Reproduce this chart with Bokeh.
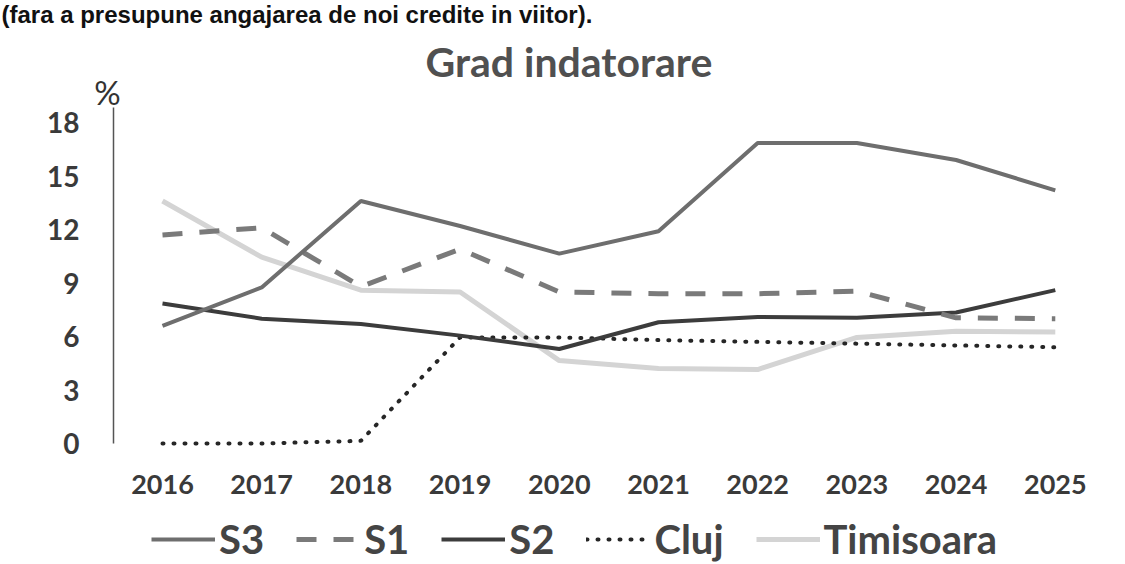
from bokeh.plotting import figure
from bokeh.models import Legend, LegendItem, Label, FixedTicker, Range1d
from bokeh.embed import file_html
from bokeh.resources import INLINE

years = [2016, 2017, 2018, 2019, 2020, 2021, 2022, 2023, 2024, 2025]
s3 = [6.6, 8.75, 13.6, 12.2, 10.65, 11.9, 16.85, 16.85, 15.9, 14.2]
s1 = [11.7, 12.1, 8.8, 10.9, 8.5, 8.4, 8.4, 8.55, 7.05, 7.0]
s2 = [7.85, 7.0, 6.7, 6.05, 5.3, 6.8, 7.1, 7.05, 7.35, 8.6]
cluj = [0.0, 0.0, 0.15, 5.95, 5.95, 5.8, 5.7, 5.6, 5.5, 5.4]
timisoara = [13.6, 10.45, 8.6, 8.5, 4.65, 4.2, 4.15, 5.95, 6.3, 6.25]
y_ticks = [0, 3, 6, 9, 12, 15, 18]

title_text = "Grad indatorare"
top_text = "(fara a presupune angajarea de noi credite in viitor)."

W, H = 1125, 564
p = figure(width=W, height=H, output_backend="svg", toolbar_location=None,
           title_location=None,
           x_range=Range1d(2014.367, 2014.367 + W / 99.2),
           y_range=Range1d(-(H - 443) / 17.83, 443 / 17.83),
           min_border_left=0, min_border_right=0, min_border_top=0,
           min_border_bottom=0)
p.outline_line_color = None
p.xgrid.visible = False
p.ygrid.visible = False
p.background_fill_color = "white"
p.border_fill_color = "white"

# axes (placed inside the frame)
p.yaxis.fixed_location = 2015.506
p.yaxis.ticker = FixedTicker(ticks=y_ticks)
p.yaxis.bounds = (0, 18.85)
p.yaxis.axis_line_color = "#555555"
p.yaxis.axis_line_width = 1.5
p.yaxis.major_tick_line_color = None
p.yaxis.minor_tick_line_color = None
p.yaxis.major_label_text_font = "Lato"
p.yaxis.major_label_text_font_size = "28px"
p.yaxis.major_label_text_font_style = "bold"
p.yaxis.major_label_text_color = "#3a3a3a"
p.yaxis.major_label_standoff = 28

p.xaxis.fixed_location = -0.5
p.xaxis.ticker = FixedTicker(ticks=years)
p.xaxis.axis_line_color = None
p.xaxis.major_tick_line_color = None
p.xaxis.minor_tick_line_color = None
p.xaxis.major_label_text_font = "Lato"
p.xaxis.major_label_text_font_size = "27px"
p.xaxis.major_label_text_font_style = "bold"
p.xaxis.major_label_text_color = "#3a3a3a"
p.xaxis.major_label_standoff = 17

r_tim = p.line(years, timisoara, line_color="#d4d4d4", line_width=5)
r_cluj = p.line(years, cluj, line_color="#262626", line_width=4, line_dash="1 10", line_cap="round")
r_s2 = p.line(years, s2, line_color="#3c3c3c", line_width=4)
r_s1 = p.line(years, s1, line_color="#7a7a7a", line_width=5, line_dash="20 17")
r_s3 = p.line(years, s3, line_color="#6e6e6e", line_width=4)

legend = Legend(items=[
    LegendItem(label="S3", renderers=[r_s3]),
    LegendItem(label="S1", renderers=[r_s1]),
    LegendItem(label="S2", renderers=[r_s2]),
    LegendItem(label="Cluj", renderers=[r_cluj]),
    LegendItem(label="Timisoara", renderers=[r_tim]),
], orientation="horizontal", location=(151, 1),
    glyph_width=64, glyph_height=40, label_standoff=4, spacing=32,
    padding=0, margin=0, border_line_color=None, background_fill_alpha=0,
    label_text_font="Lato", label_text_font_size="40px", label_text_font_style="bold",
    label_text_color="#444444")
p.add_layout(legend, "center")

p.add_layout(Label(x=425, y=H - 61, x_units="screen", y_units="screen", text=title_text,
                   text_font="Lato", text_font_size="41px", text_font_style="bold",
                   text_color="#505050", text_align="left", text_baseline="alphabetic"))
p.add_layout(Label(x=107, y=H - 91, x_units="screen", y_units="screen", text="%",
                   text_font="Lato", text_font_size="33px", text_color="#333333",
                   text_align="center", text_baseline="alphabetic"))
p.add_layout(Label(x=1, y=H - 14, x_units="screen", y_units="screen", text=top_text,
                   text_font="Liberation Sans", text_font_size="24px", text_font_style="bold",
                   text_color="#111111", text_align="left", text_baseline="alphabetic"))

open("out.html", "w").write(file_html(p, INLINE))
